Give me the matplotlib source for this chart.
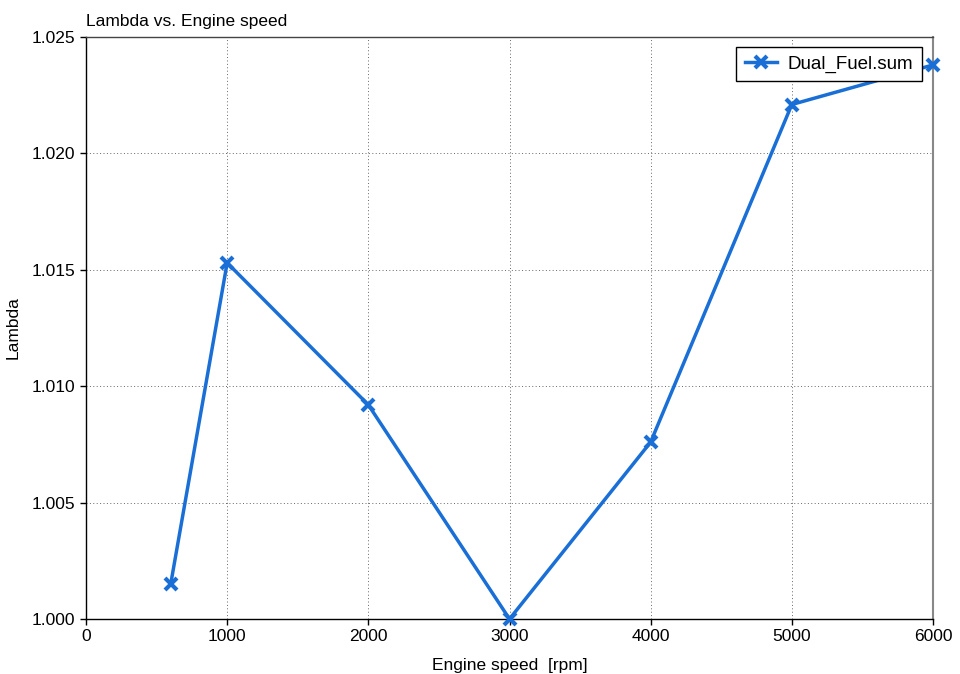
import matplotlib
matplotlib.use("Agg")
import matplotlib.pyplot as plt
from matplotlib.ticker import MultipleLocator, FormatStrFormatter

plt.rcParams['font.family'] = ['Liberation Sans', 'DejaVu Sans']

engine_speed = [600, 1000, 2000, 3000, 4000, 5000, 6000]
lambda_vals = [1.0015, 1.0153, 1.0092, 1.0000, 1.0076, 1.0221, 1.0238]
series_name = "Dual_Fuel.sum"

fig = plt.figure(figsize=(9.6, 6.74), dpi=100)
ax = fig.add_axes([86/960, 1-619/674, (933-86)/960, (619-37)/674])

color = '#1a6fd6'
ax.plot(engine_speed, lambda_vals, color=color, lw=2.5, marker='x', ms=9,
        mew=3, label=series_name, clip_on=False, zorder=3)

ax.set_xlim(0, 6000)
ax.set_ylim(1.000, 1.025)
ax.xaxis.set_major_locator(MultipleLocator(1000))
ax.yaxis.set_major_locator(MultipleLocator(0.005))
ax.yaxis.set_major_formatter(FormatStrFormatter('%.3f'))
ax.grid(True, color='#666666', linestyle=(0, (1, 2.5)), lw=0.7)
ax.tick_params(labelsize=12.5, length=4, width=1, color='black', direction='out')

for s in ['left', 'bottom', 'top']:
    ax.spines[s].set_color('black')
    ax.spines[s].set_linewidth(1)
ax.spines['top'].set_color('#444444')
ax.spines['right'].set_color('#888888')
ax.spines['right'].set_linewidth(1.5)

ax.set_xlabel('Engine speed  [rpm]', fontsize=12.5, labelpad=10)
ax.set_ylabel('Lambda', fontsize=12.5, labelpad=8)
ax.set_title('Lambda vs. Engine speed', fontsize=12.5, loc='left', pad=8)

leg = ax.legend(loc='upper right', bbox_to_anchor=(0.9870, 0.983), borderaxespad=0,
                fontsize=13.5, frameon=True, fancybox=False, edgecolor='black',
                framealpha=1, borderpad=0.45, handlelength=1.7, handletextpad=0.6)
leg.get_frame().set_linewidth(1)

fig.savefig('out.png', dpi=100)
